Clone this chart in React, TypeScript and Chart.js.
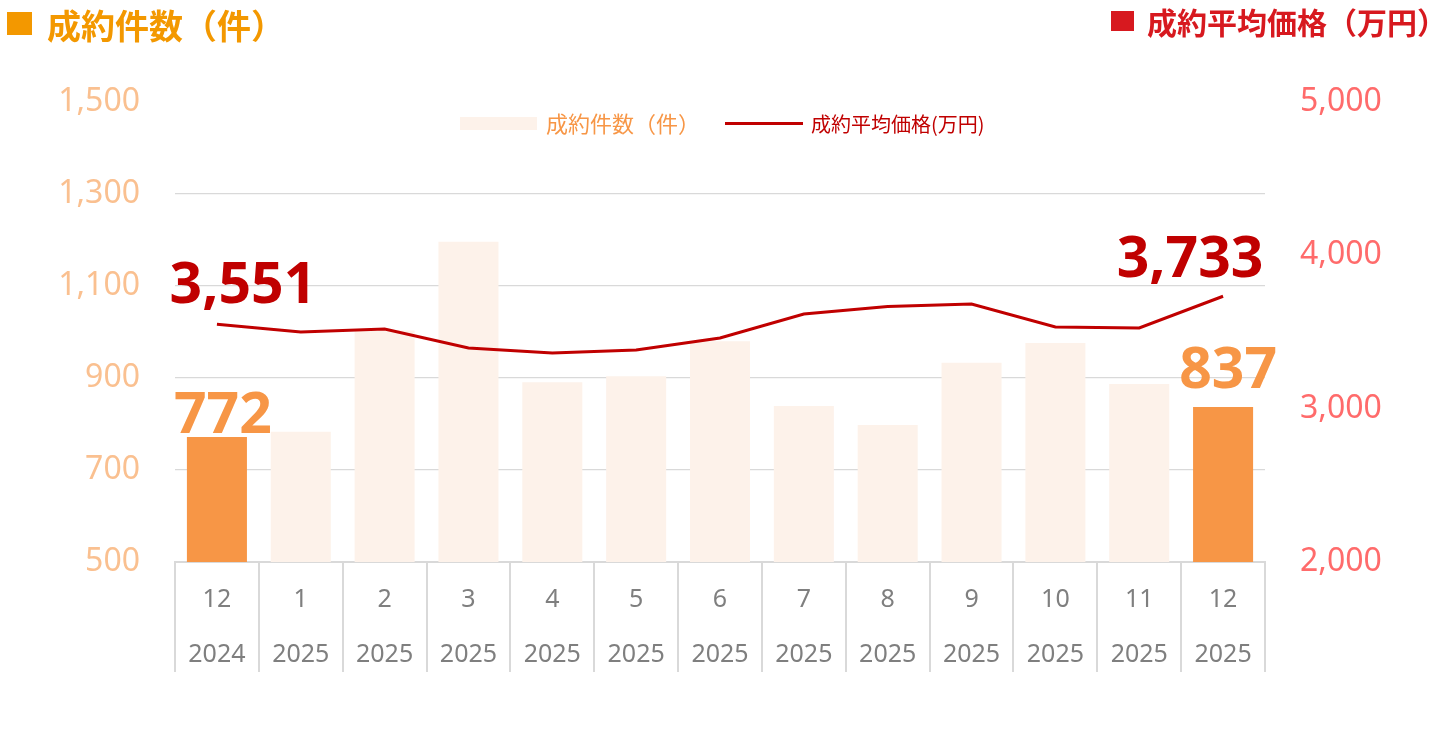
import React, { useEffect, useRef } from 'react';
import { Chart, registerables } from 'chart.js';

Chart.register(...registerables);

// 成約件数 / 成約平均価格 の月次推移
const months = ['12', '1', '2', '3', '4', '5', '6', '7', '8', '9', '10', '11', '12'];
const years = ['2024', '2025', '2025', '2025', '2025', '2025', '2025', '2025', '2025', '2025', '2025', '2025', '2025'];
const counts = [772, 783, 1003, 1196, 891, 904, 980, 839, 798, 933, 976, 887, 837];
const prices = [3551, 3500, 3520, 3396, 3363, 3383, 3461, 3617, 3666, 3683, 3533, 3526, 3733];
const highlighted = [0, 12];
const countAxis = { min: 500, max: 1500, step: 200 };
const priceAxis = { min: 2000, max: 5000, step: 1000 };

const ORANGE = '#F79646';
const PALE = '#FDF2EA';
const RED = '#C00000';
const GRID = '#D9D9D9';
const NUM_FONT = '"Noto Sans", sans-serif';
const JP_FONT = '"Noto Sans CJK JP", sans-serif';

const fmt = (v: number) => Number(v).toLocaleString('en-US');

// big value labels on the first and last month
const valueLabels = {
  id: 'valueLabels',
  afterDatasetsDraw(chart: any) {
    const { ctx } = chart;
    const barMeta = chart.getDatasetMeta(1);
    const lineMeta = chart.getDatasetMeta(0);
    const last = counts.length - 1;
    ctx.save();
    ctx.font = `bold 57px ${NUM_FONT}`;
    ctx.textAlign = 'center';
    ctx.textBaseline = 'alphabetic';

    ctx.fillStyle = ORANGE;
    const b0 = barMeta.data[0];
    ctx.fillText(fmt(counts[0]), b0.x + 6, b0.y - 4);
    const bl = barMeta.data[last];
    ctx.fillText(fmt(counts[last]), bl.x + 5, bl.y - 19);

    ctx.fillStyle = RED;
    const p0 = lineMeta.data[0];
    ctx.fillText(fmt(prices[0]), p0.x + 26, p0.y - 21);
    const pl = lineMeta.data[last];
    ctx.fillText(fmt(prices[last]), pl.x - 33, pl.y - 19);
    ctx.restore();
  },
};

const PriceCountChart: React.FC = () => {
  const canvasRef = useRef<HTMLCanvasElement>(null);

  useEffect(() => {
    if (!canvasRef.current) return;
    const chart = new Chart(canvasRef.current, {
      type: 'bar',
      data: {
        labels: months.map((m, i) => [m, years[i]]),
        datasets: [
          {
            type: 'line',
            label: '成約平均価格(万円)',
            data: prices,
            yAxisID: 'y1',
            borderColor: RED,
            borderWidth: 3,
            pointRadius: 0,
            tension: 0,
            order: 0,
          } as any,
          {
            type: 'bar',
            label: '成約件数（件）',
            data: counts,
            yAxisID: 'y',
            backgroundColor: counts.map((_, i) => (highlighted.includes(i) ? ORANGE : PALE)),
            categoryPercentage: 1,
            barPercentage: 0.716,
            order: 1,
          },
        ],
      },
      options: {
        animation: false,
        responsive: false,
        maintainAspectRatio: false,
        layout: { padding: { top: 102, left: 0, right: 0, bottom: 0 } },
        plugins: {
          legend: { display: false },
          tooltip: { enabled: false },
        },
        scales: {
          x: {
            offset: true,
            grid: {
              offset: true,
              drawOnChartArea: false,
              drawTicks: true,
              tickLength: 110,
              color: GRID,
              lineWidth: 2,
            },
            border: { display: true, color: GRID, width: 2 },
            ticks: {
              color: '#7F7F7F',
              font: { family: NUM_FONT, size: 25, lineHeight: 2.2 },
              padding: -100,
              maxRotation: 0,
              autoSkip: false,
            },
            afterFit: (s: any) => {
              s.height = 176;
            },
          },
          y: {
            position: 'left',
            min: countAxis.min,
            max: countAxis.max,
            ticks: {
              stepSize: countAxis.step,
              color: '#FAC090',
              font: { family: NUM_FONT, size: 32 },
              padding: 35,
              callback: (v: any) => fmt(v),
            },
            grid: {
              drawTicks: false,
              color: (c: any) => (c.tick && c.tick.value === countAxis.max ? 'rgba(0,0,0,0)' : GRID),
              lineWidth: 1.3,
            },
            border: { display: false },
            afterFit: (s: any) => {
              s.width = 175;
            },
          },
          y1: {
            position: 'right',
            min: priceAxis.min,
            max: priceAxis.max,
            ticks: {
              stepSize: priceAxis.step,
              color: '#FF6B6B',
              font: { family: NUM_FONT, size: 32 },
              padding: 35,
              callback: (v: any) => fmt(v),
            },
            grid: { display: false, drawTicks: false },
            border: { display: false },
            afterFit: (s: any) => {
              s.width = 175;
            },
          },
        },
      },
      plugins: [valueLabels],
    });

    return () => {
      chart.destroy();
    };
  }, []);

  return <canvas ref={canvasRef} width={1440} height={738} style={{ position: 'absolute', left: 0, top: 0 }} />;
};

const App: React.FC = () => {
  return (
    <div style={{ position: 'fixed', left: 0, top: 0, width: 1440, height: 738, background: '#fff', overflow: 'hidden' }}>
      <PriceCountChart />
      {/* axis titles */}
      <div style={{ position: 'absolute', left: 7, top: 12, width: 25, height: 23, background: '#F39800' }} />
      <div
        style={{
          position: 'absolute', left: 47, top: 8, fontFamily: JP_FONT, fontWeight: 700,
          fontSize: 34, lineHeight: '34px', color: '#F39800', whiteSpace: 'nowrap',
        }}
      >
        成約件数（件）
      </div>
      <div style={{ position: 'absolute', left: 1111, top: 11, width: 23, height: 20, background: '#D7191F' }} />
      <div
        style={{
          position: 'absolute', left: 1147, top: 6, fontFamily: JP_FONT, fontWeight: 700,
          fontSize: 30, lineHeight: '30px', color: '#D7191F', whiteSpace: 'nowrap',
        }}
      >
        成約平均価格（万円）
      </div>
      {/* legend */}
      <div style={{ position: 'absolute', left: 460, top: 117, width: 77, height: 13, background: PALE }} />
      <div
        style={{
          position: 'absolute', left: 546, top: 111, fontFamily: JP_FONT, fontSize: 22,
          lineHeight: '23px', color: ORANGE, whiteSpace: 'nowrap',
        }}
      >
        成約件数（件）
      </div>
      <div style={{ position: 'absolute', left: 725, top: 122, width: 78, height: 3, background: RED }} />
      <div
        style={{
          position: 'absolute', left: 811, top: 113, fontFamily: JP_FONT, fontSize: 20,
          lineHeight: '21px', color: RED, whiteSpace: 'nowrap',
        }}
      >
        成約平均価格(万円)
      </div>
    </div>
  );
};

export default App;
